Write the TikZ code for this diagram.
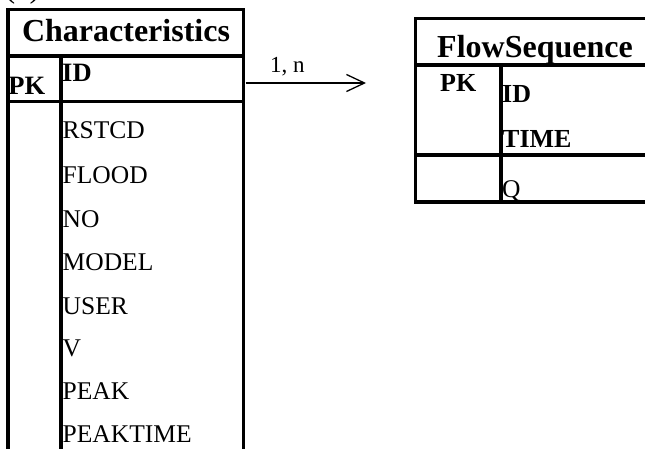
\documentclass[tikz,border=0pt]{standalone}
\usepackage{fontspec}
\setmainfont{Liberation Serif}
\usetikzlibrary{arrows.meta}
\begin{document}
\begin{tikzpicture}[x=1pt,y=-1pt,
  frame/.style={line width=3.5pt},
  tabtitle/.style={font=\fontsize{32}{38}\selectfont\bfseries, inner sep=0pt, anchor=base},
  keyfield/.style={font=\fontsize{26.5}{30}\selectfont\bfseries, inner sep=0pt, anchor=base west},
  field/.style={font=\fontsize{25.5}{30}\selectfont, inner sep=0pt, anchor=base west},
  rel/.style={line width=1.3pt, -{Straight Barb[length=18pt,width=17pt]}},
  rellabel/.style={font=\fontsize{23}{28}\selectfont, inner sep=0pt, anchor=base west},
  caption/.style={font=\fontsize{32}{38}\selectfont, inner sep=0pt, anchor=base west}]
\useasboundingbox (0,0) rectangle (645,449);
\clip (0,0) rectangle (645,449);

% caption (cut off at the top)
\node[caption] (cap) at (4.5,-2.7) {(a)};

% ---- Characteristics table ----
\draw[frame] (8,470) -- (8,9.5) -- (243.5,9.5) -- (243.5,470);
\draw[frame] (8,56) -- (243.5,56);
\draw[frame] (8,101.5) -- (243.5,101.5);
\draw[frame] (61,56) -- (61,470);

\node[tabtitle] (chartitle) at (126,41.7) {Characteristics};
\node[keyfield] (charpk) at (8.3,95) {PK};
\node[keyfield] (charid) at (62,82) {ID};
\node[field] (f1) at (62.5,139) {RSTCD};
\node[field] (f2) at (62.5,184) {FLOOD};
\node[field] (f3) at (62.5,227) {NO};
\node[field] (f4) at (62.5,270.5) {MODEL};
\node[field] (f5) at (62.5,314) {USER};
\node[field] (f6) at (62.5,356) {V};
\node[field] (f7) at (62.5,399) {PEAK};
\node[field] (f8) at (62.5,442) {PEAKTIME};

% ---- FlowSequence table ----
\draw[frame] (670,18.5) -- (415.5,18.5) -- (415.5,202) -- (670,202);
\draw[frame] (415.5,65) -- (670,65);
\draw[frame] (415.5,155) -- (670,155);
\draw[frame] (501,65) -- (501,202);

\node[tabtitle] (flowtitle) at (535,58) {FlowSequence};
\node[keyfield, font=\fontsize{26}{30}\selectfont\bfseries] (flowpk) at (440,92) {PK};
\node[keyfield, font=\fontsize{26}{30}\selectfont\bfseries] (flowid) at (502,103) {ID};
\node[keyfield, font=\fontsize{26}{30}\selectfont\bfseries] (flowtime) at (502,148) {TIME};
\node[field] (flowq) at (502,198) {Q};

% ---- relationship ----
\coordinate (relstart) at (245.5,83);
\coordinate (relend) at (366,83);
\draw[rel] (relstart) -- (relend);
\node[rellabel] (card) at (270,73) {1, n};
\end{tikzpicture}
\end{document}
